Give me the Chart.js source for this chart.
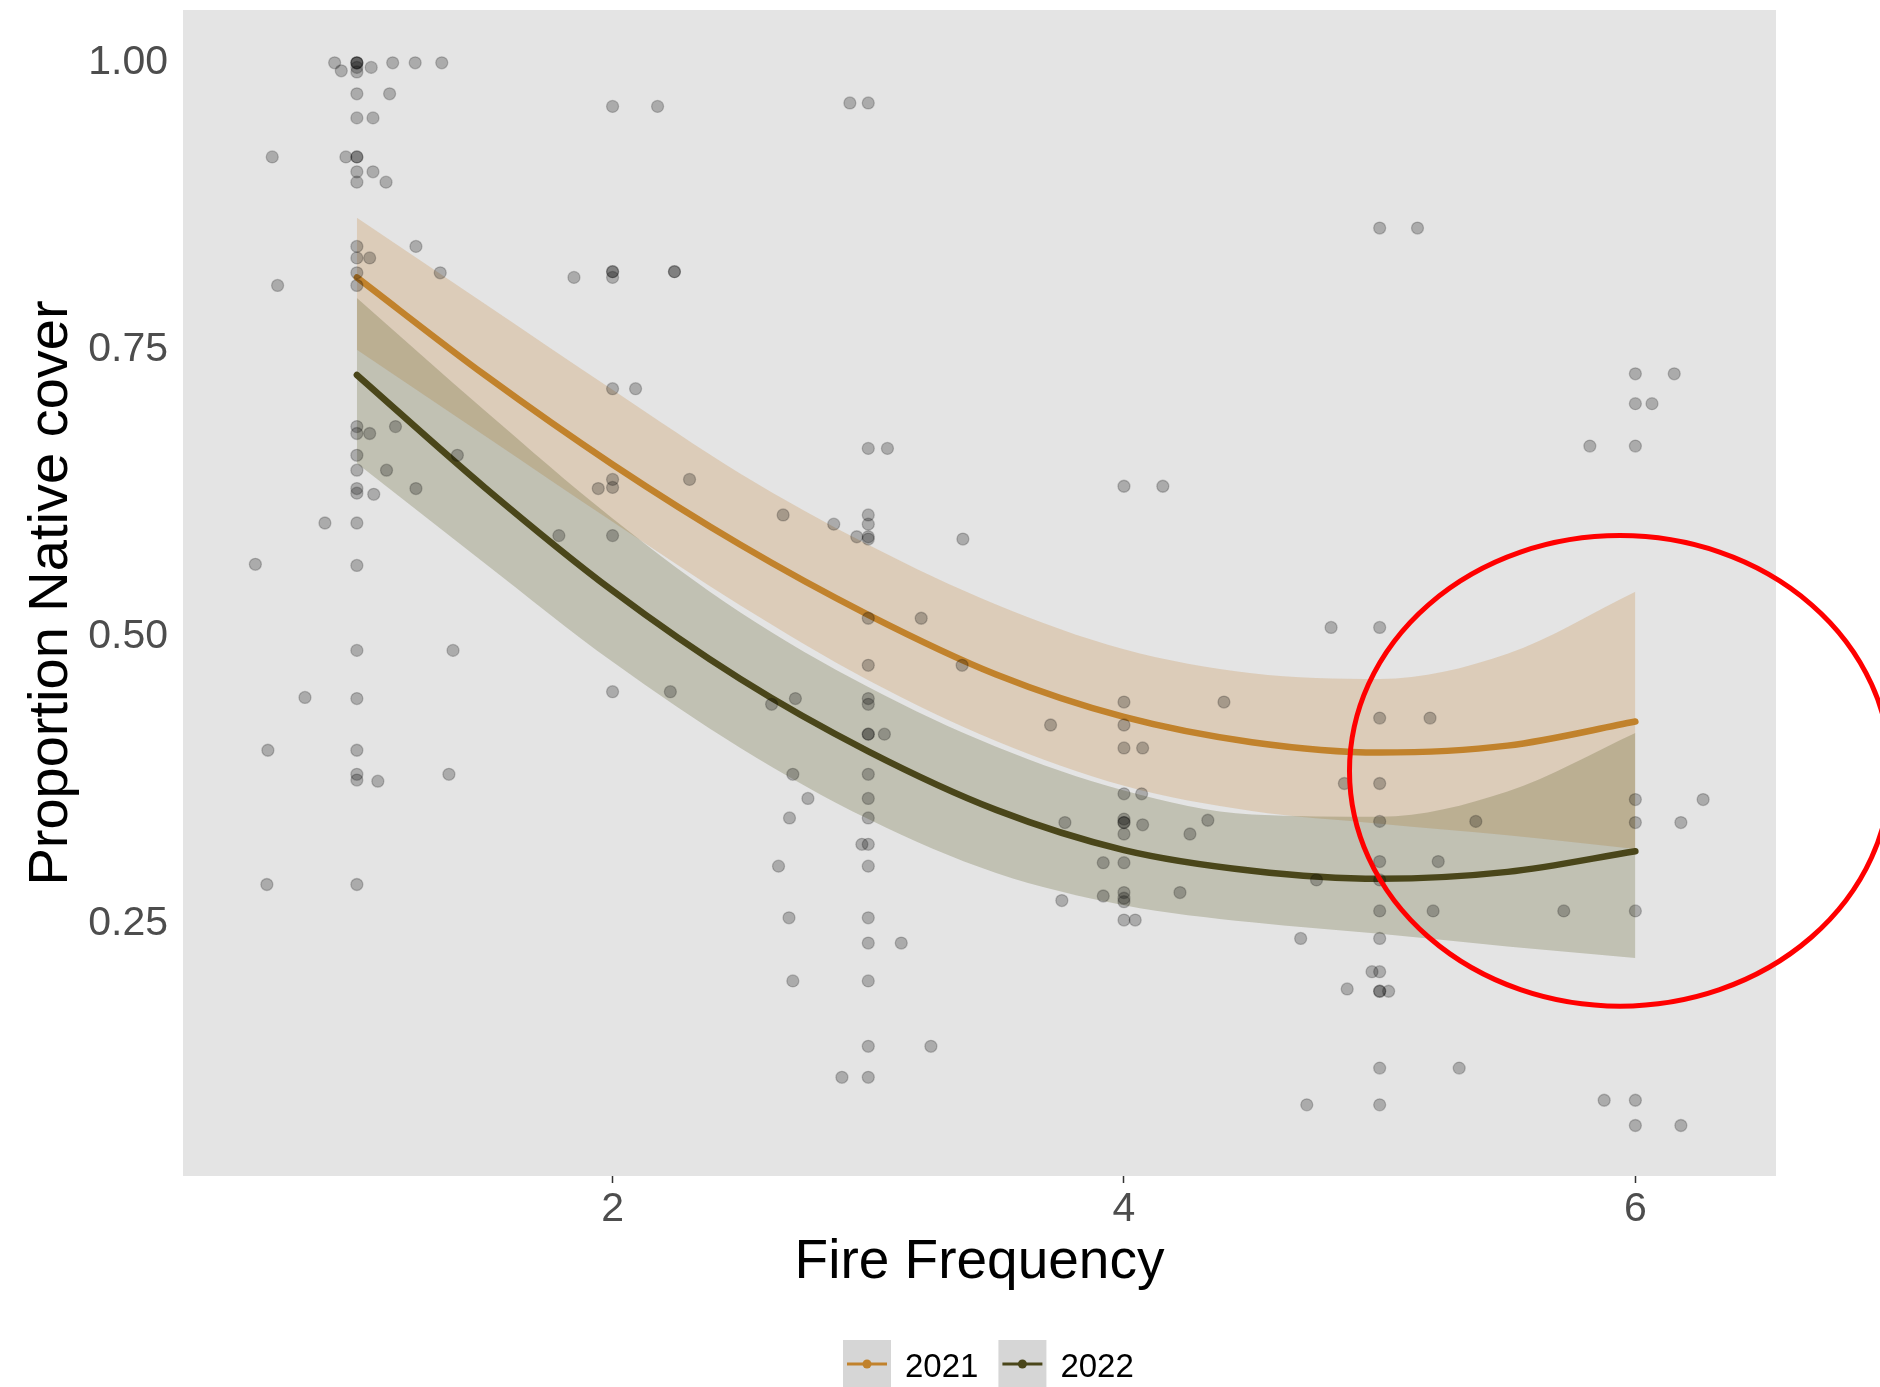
<!DOCTYPE html>
<html>
<head>
<meta charset="utf-8">
<title>Proportion Native cover by Fire Frequency</title>
<script src="https://cdn.jsdelivr.net/npm/chart.js@4.4.1/dist/chart.umd.min.js"></script>
<style>
  html, body { margin: 0; padding: 0; background: #ffffff; }
  canvas { display: block; }
</style>
</head>
<body>
<canvas id="fireChart" width="1880" height="1387"></canvas>
<script>
// fitted curves (quasi-binomial, quadratic in fire frequency) with 95% bands
var fireFreq = [1, 1.5, 2, 2.5, 3, 3.5, 4, 4.5, 5, 5.5, 6];
var fit2021 = [0.813, 0.728, 0.650, 0.580, 0.519, 0.467, 0.430, 0.408, 0.399, 0.405, 0.426];
var hi2021  = [0.865, 0.790, 0.715, 0.642, 0.580, 0.528, 0.489, 0.468, 0.463, 0.485, 0.539];
var lo2021  = [0.750, 0.675, 0.600, 0.527, 0.462, 0.409, 0.370, 0.348, 0.337, 0.327, 0.315];
var fit2022 = [0.728, 0.630, 0.540, 0.463, 0.400, 0.349, 0.314, 0.296, 0.289, 0.295, 0.313];
var hi2022  = [0.795, 0.697, 0.603, 0.521, 0.456, 0.404, 0.366, 0.345, 0.343, 0.365, 0.416];
var lo2022  = [0.651, 0.564, 0.478, 0.403, 0.341, 0.294, 0.266, 0.251, 0.241, 0.230, 0.220];

// plot-level observations (raw + horizontally jittered copies)
var obsX = [
  1, 1, 1, 1, 1, 0.913, 0.939, 1.056, 1.14, 1.228, 1.332,
  1, 1.128, 1, 1.063, 1, 1, 0.957, 0.669, 1, 1.063, 1, 1.114,
  1, 1.231, 1, 1.05, 1, 1.326, 1, 0.69,
  1, 1.151, 1, 1.05, 1, 1.393, 1, 1.116, 1, 1, 1.066, 1.231,
  1, 0.875, 1, 0.603, 1, 1.376, 1, 0.797, 1, 0.652, 1, 1, 1.082, 1.36, 1, 0.648,
  2, 2.176, 2, 2, 2, 2.242, 2.242, 1.849, 2, 2.09,
  2, 2, 2.301, 1.944, 2, 1.79, 2, 2.226,
  3, 2.928, 3, 3.075, 3, 2.667, 3, 2.865, 3, 2.955, 3, 3.37,
  3, 3.207, 3, 3.367, 3, 2.715, 3, 2.622, 3, 3, 3.063,
  3, 2.705, 3, 2.764, 3, 2.692, 3, 2.975, 3, 2.649,
  3, 2.69, 3, 3.129, 3, 2.705, 3, 3.245, 3, 2.897,
  4, 4.152, 4, 4.391, 4, 3.713, 4, 4.073, 4, 4.069,
  4, 4, 4, 4, 3.769, 4.073, 4.328, 4.258, 4, 3.919,
  4, 4, 4, 3.919, 4.219, 3.757, 4, 4.044,
  5, 5.148, 5, 4.81, 5, 5.197, 5, 4.862, 5, 5.376, 5, 5.229,
  5, 4.753, 5, 5.209, 5, 4.691, 5, 4.97, 5, 5, 4.873, 5.035,
  5, 5.311, 5, 4.715,
  6, 6.152, 6, 6.065, 6, 5.822, 6, 6.265, 6, 6.178,
  6, 5.72, 6, 5.878, 6, 6.178
];
var obsY = [
  1.00, 1.00, 1.00, 0.996, 0.992, 1.00, 0.993, 0.996, 1.00, 1.00, 1.00,
  0.973, 0.973, 0.952, 0.952, 0.918, 0.918, 0.918, 0.918, 0.905, 0.905, 0.896, 0.896,
  0.840, 0.840, 0.830, 0.830, 0.817, 0.817, 0.806, 0.806,
  0.683, 0.683, 0.677, 0.677, 0.658, 0.658, 0.645, 0.645, 0.629, 0.625, 0.624, 0.629,
  0.599, 0.599, 0.562, 0.563, 0.488, 0.488, 0.446, 0.447, 0.401, 0.401, 0.380, 0.375, 0.374, 0.380, 0.284, 0.284,
  0.962, 0.962, 0.818, 0.818, 0.813, 0.818, 0.818, 0.813, 0.716, 0.716,
  0.637, 0.630, 0.637, 0.629, 0.588, 0.588, 0.452, 0.452,
  0.965, 0.965, 0.664, 0.664, 0.606, 0.606, 0.598, 0.598, 0.587, 0.587, 0.585, 0.585,
  0.516, 0.516, 0.475, 0.475, 0.446, 0.446, 0.441, 0.441, 0.415, 0.415, 0.415,
  0.380, 0.380, 0.359, 0.359, 0.342, 0.342, 0.319, 0.319, 0.300, 0.300,
  0.255, 0.255, 0.233, 0.233, 0.200, 0.200, 0.143, 0.143, 0.116, 0.116,
  0.631, 0.631, 0.443, 0.443, 0.423, 0.423, 0.403, 0.403, 0.363, 0.363,
  0.341, 0.338, 0.338, 0.328, 0.338, 0.336, 0.340, 0.328, 0.303, 0.303,
  0.277, 0.272, 0.269, 0.274, 0.277, 0.270, 0.253, 0.253,
  0.856, 0.856, 0.508, 0.508, 0.429, 0.429, 0.372, 0.372, 0.339, 0.339, 0.304, 0.304,
  0.288, 0.288, 0.261, 0.261, 0.237, 0.237, 0.208, 0.208, 0.191, 0.191, 0.193, 0.191,
  0.124, 0.124, 0.092, 0.092,
  0.729, 0.729, 0.703, 0.703, 0.666, 0.666, 0.358, 0.358, 0.338, 0.338,
  0.261, 0.261, 0.096, 0.096, 0.074, 0.074
];

var years = ['2021', '2022'];
var xTicks = [2, 4, 6];
var yTicks = [0.25, 0.50, 0.75, 1.00];
// circled region (centre and half-widths in data units)
var ring = { x: 5.94, y: 0.383, dx: 1.058, dy: 0.205 };

var orange = '#c1822c';
var olive = '#4a461a';

function curve(values) {
    return fireFreq.map(function (x, i) { return { x: x, y: values[i] }; });
}

var observed = obsX.map(function (x, i) { return { x: x, y: obsY[i] }; });

var panelBackground = {
    id: 'panelBackground',
    beforeDraw: function (chart) {
        var a = chart.chartArea;
        var ctx = chart.ctx;
        ctx.save();
        ctx.fillStyle = '#e4e4e4';
        ctx.fillRect(a.left, a.top, a.right - a.left, a.bottom - a.top);
        ctx.restore();
    }
};

// ggplot-style legend keys under the axis title
var legendKeys = {
    id: 'legendKeys',
    afterDraw: function (chart) {
        var ctx = chart.ctx;
        var colors = [orange, olive];
        var x = 843, top = 1340, size = 48, midY = 1364;
        ctx.save();
        ctx.font = '33px "Liberation Sans", Arial, sans-serif';
        ctx.textBaseline = 'alphabetic';
        years.forEach(function (label, i) {
            ctx.fillStyle = '#d6d6d6';
            ctx.fillRect(x, top, size, size);
            ctx.strokeStyle = colors[i];
            ctx.lineWidth = 3;
            ctx.beginPath();
            ctx.moveTo(x + 4, midY);
            ctx.lineTo(x + size - 4, midY);
            ctx.stroke();
            ctx.fillStyle = colors[i];
            ctx.beginPath();
            ctx.arc(x + size / 2, midY, 4.5, 0, Math.PI * 2);
            ctx.fill();
            ctx.fillStyle = '#000000';
            ctx.fillText(label, x + size + 14, 1377);
            x += size + 14 + ctx.measureText(label).width + 20;
        });
        ctx.restore();
    }
};

var highlightRing = {
    id: 'highlightRing',
    afterDraw: function (chart) {
        var xs = chart.scales.x, ys = chart.scales.y;
        var cx = xs.getPixelForValue(ring.x);
        var cy = ys.getPixelForValue(ring.y);
        var rx = xs.getPixelForValue(ring.x + ring.dx) - cx;
        var ry = ys.getPixelForValue(ring.y - ring.dy) - cy;
        var ctx = chart.ctx;
        ctx.save();
        ctx.strokeStyle = '#ff0000';
        ctx.lineWidth = 5;
        ctx.beginPath();
        ctx.ellipse(cx, cy, rx, ry, 0, 0, Math.PI * 2);
        ctx.stroke();
        ctx.restore();
    }
};

function bandEdge(values, fillColor, order) {
    return {
        type: 'line',
        data: curve(values),
        borderColor: 'rgba(0,0,0,0)',
        borderWidth: 0,
        pointRadius: 0,
        backgroundColor: fillColor,
        fill: fillColor ? '+1' : false,
        cubicInterpolationMode: 'monotone',
        order: order
    };
}

function fitLine(label, values, color, order) {
    return {
        type: 'line',
        label: label,
        data: curve(values),
        borderColor: color,
        borderWidth: 6.5,
        borderCapStyle: 'round',
        pointRadius: 0,
        fill: false,
        cubicInterpolationMode: 'monotone',
        order: order
    };
}

var ctx = document.getElementById('fireChart').getContext('2d');
var chart = new Chart(ctx, {
    type: 'scatter',
    data: {
        datasets: [
            bandEdge(hi2021, 'rgba(201,148,85,0.30)', 5),
            bandEdge(lo2021, null, 5),
            fitLine(years[0], fit2021, orange, 4),
            bandEdge(hi2022, 'rgba(88,88,32,0.25)', 3),
            bandEdge(lo2022, null, 3),
            fitLine(years[1], fit2022, olive, 2),
            {
                label: 'Observed',
                data: observed,
                backgroundColor: 'rgba(0,0,0,0.25)',
                borderColor: 'rgba(0,0,0,0.2)',
                borderWidth: 1.3,
                pointRadius: 6,
                order: 1
            }
        ]
    },
    options: {
        responsive: false,
        animation: false,
        devicePixelRatio: 1,
        layout: { padding: { top: 10, right: 104, bottom: 0, left: 0 } },
        plugins: {
            legend: { display: false },
            tooltip: { enabled: false }
        },
        scales: {
            x: {
                type: 'linear',
                min: 0.32,
                max: 6.55,
                afterBuildTicks: function (scale) {
                    scale.ticks = xTicks.map(function (v) { return { value: v }; });
                },
                afterFit: function (scale) {
                    scale.height = 211;
                    scale.paddingLeft = 0;
                    scale.paddingRight = 0;
                },
                grid: {
                    display: true,
                    drawOnChartArea: false,
                    drawTicks: true,
                    tickLength: 7,
                    tickColor: '#333333',
                    tickWidth: 1.5
                },
                border: { display: false },
                ticks: {
                    padding: 2,
                    color: '#4d4d4d',
                    font: { family: '"Liberation Sans", Arial, sans-serif', size: 41 },
                    callback: function (v) { return String(v); }
                },
                title: {
                    display: true,
                    text: 'Fire Frequency',
                    color: '#000000',
                    font: { family: '"Liberation Sans", Arial, sans-serif', size: 55 },
                    padding: { top: 0, bottom: 91 }
                }
            },
            y: {
                type: 'linear',
                min: 0.03,
                max: 1.046,
                afterBuildTicks: function (scale) {
                    scale.ticks = yTicks.map(function (v) { return { value: v }; });
                },
                afterFit: function (scale) {
                    scale.width = 183;
                    scale.paddingTop = 0;
                    scale.paddingBottom = 0;
                },
                grid: { display: false, drawTicks: false },
                border: { display: false },
                ticks: {
                    padding: 15,
                    color: '#4d4d4d',
                    font: { family: '"Liberation Sans", Arial, sans-serif', size: 41 },
                    callback: function (v) { return v.toFixed(2); }
                },
                title: {
                    display: true,
                    text: 'Proportion Native cover',
                    color: '#000000',
                    font: { family: '"Liberation Sans", Arial, sans-serif', size: 56 },
                    padding: { top: 18, bottom: 0 }
                }
            }
        }
    },
    plugins: [panelBackground, legendKeys, highlightRing]
});
</script>
</body>
</html>
